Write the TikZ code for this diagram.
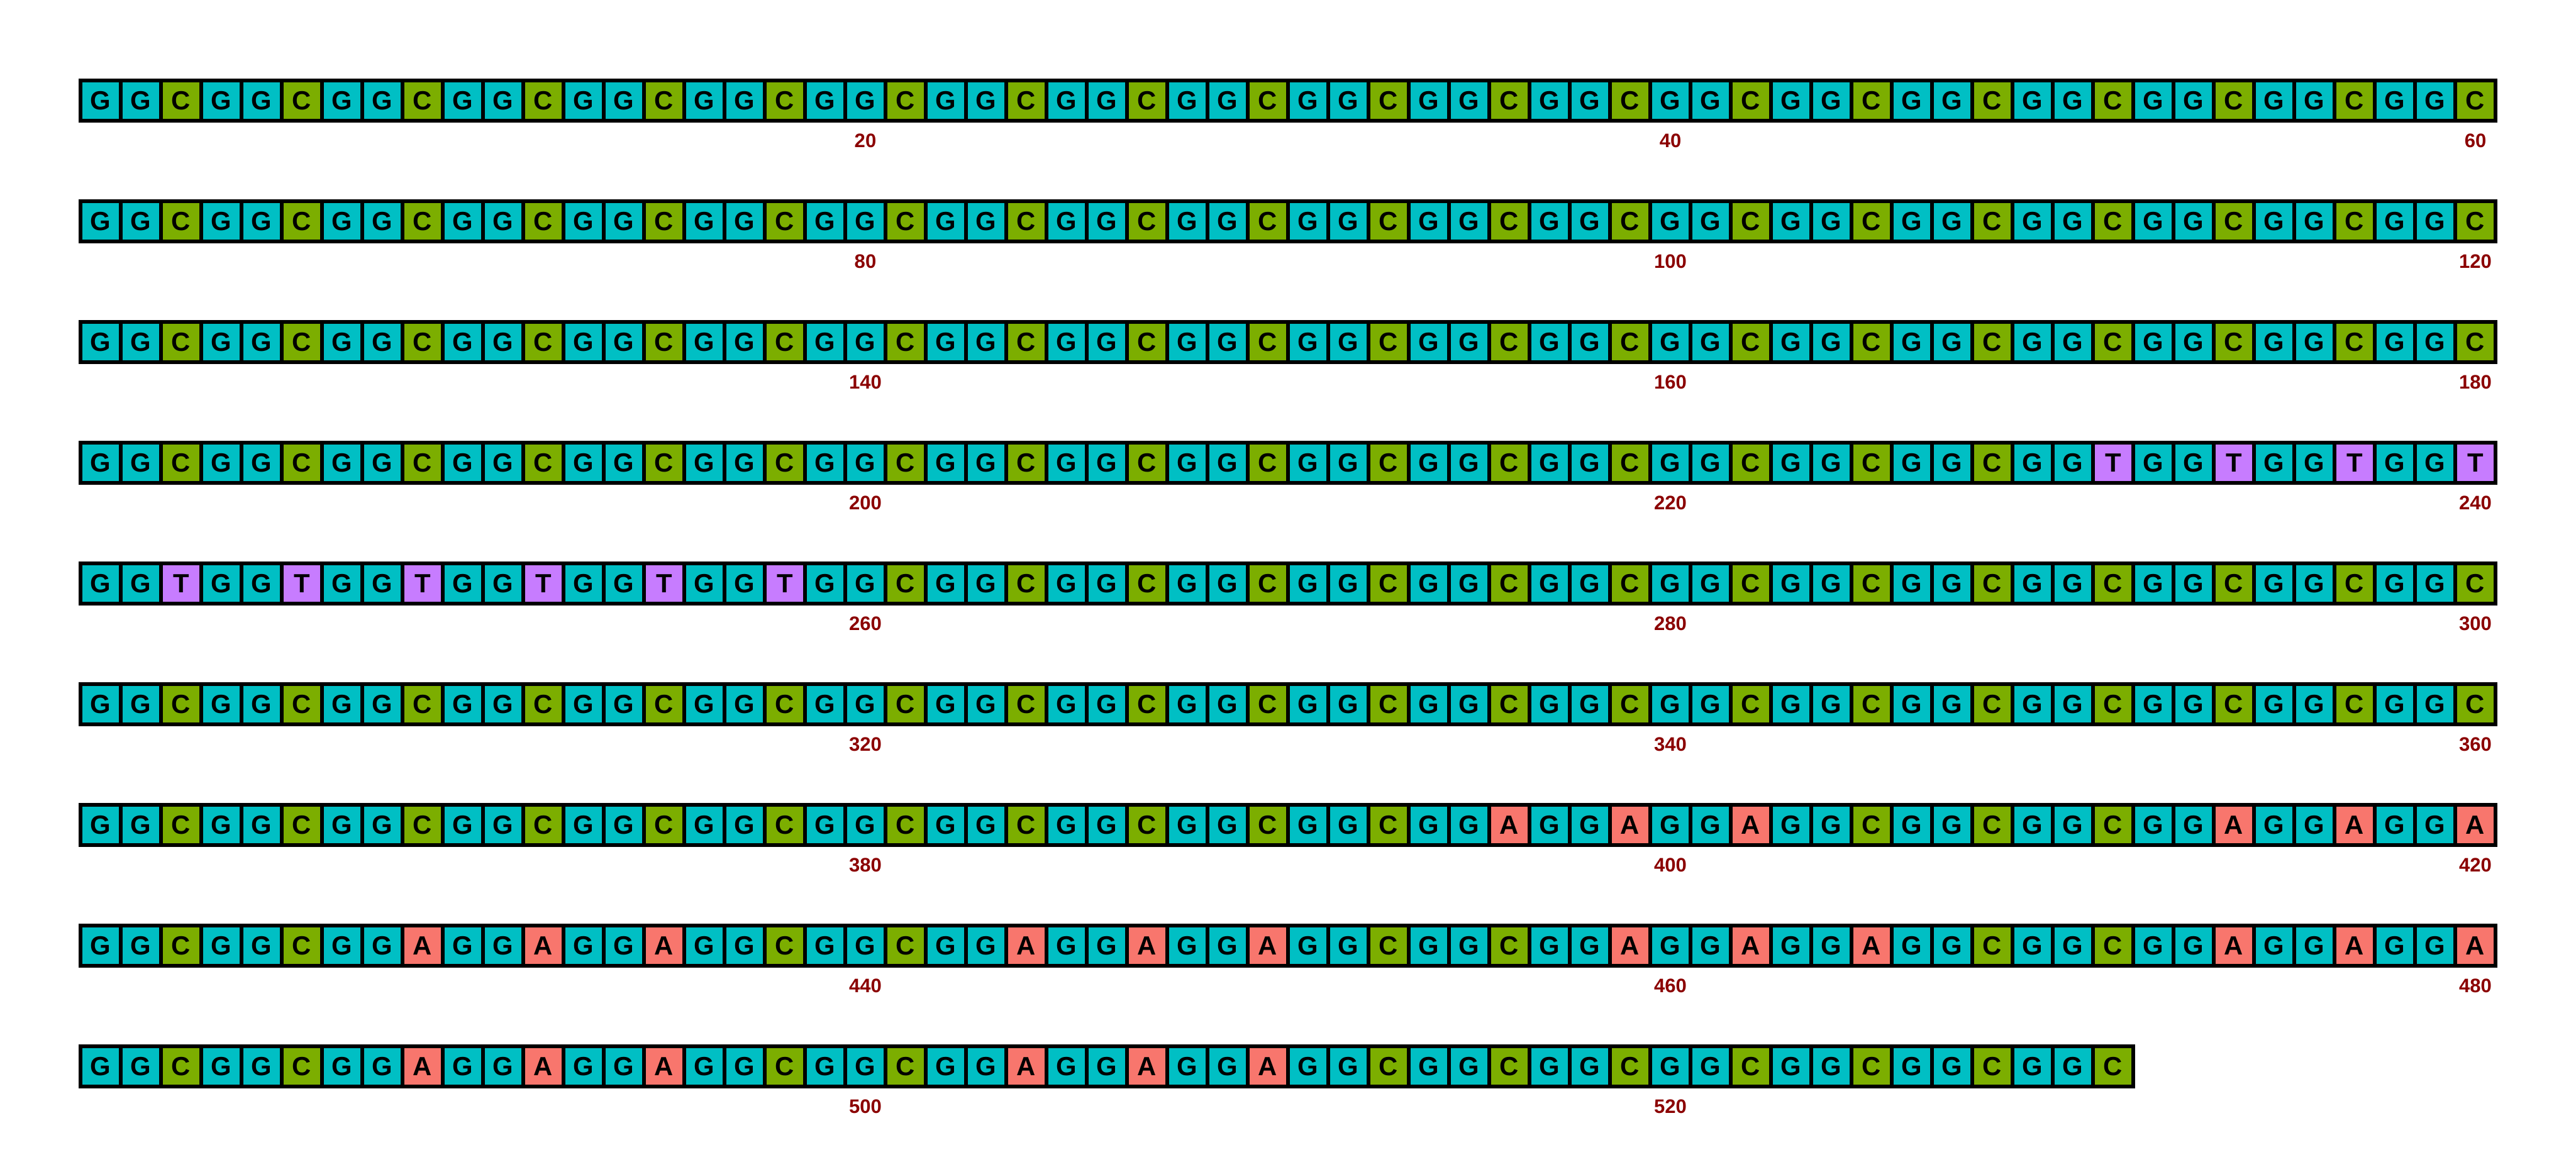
\documentclass[tikz,border=0pt]{standalone}
\usepackage{fontspec}
\setmainfont{Liberation Sans}

\definecolor{baseA}{HTML}{F8766D}
\definecolor{baseC}{HTML}{7CAE00}
\definecolor{baseG}{HTML}{00BFC4}
\definecolor{baseT}{HTML}{C77CFF}
\definecolor{tickred}{HTML}{8B0000}

\begin{document}
\begin{tikzpicture}[
        x=0.5cm, y=0.5cm,
        base/.style={draw, line width=1.3pt, minimum size=0.5cm, inner sep=0pt, outer sep=0pt, font=\fontsize{9.3}{10}\selectfont\bfseries},
        pos_label/.style={text=tickred, inner sep=0pt, font=\fontsize{6.9}{8}\selectfont\bfseries}
    ]
        \useasboundingbox (0,0) rectangle (64,29);

        % third base of every GGx codon, 20 codons per row
        \foreach \r/\codons in {
                0/{C,C,C,C,C,C,C,C,C,C,C,C,C,C,C,C,C,C,C,C},
                1/{C,C,C,C,C,C,C,C,C,C,C,C,C,C,C,C,C,C,C,C},
                2/{C,C,C,C,C,C,C,C,C,C,C,C,C,C,C,C,C,C,C,C},
                3/{C,C,C,C,C,C,C,C,C,C,C,C,C,C,C,C,T,T,T,T},
                4/{T,T,T,T,T,T,C,C,C,C,C,C,C,C,C,C,C,C,C,C},
                5/{C,C,C,C,C,C,C,C,C,C,C,C,C,C,C,C,C,C,C,C},
                6/{C,C,C,C,C,C,C,C,C,C,C,A,A,A,C,C,C,A,A,A},
                7/{C,C,A,A,A,C,C,A,A,A,C,C,A,A,A,C,C,A,A,A},
                8/{C,C,A,A,A,C,C,A,A,A,C,C,C,C,C,C,C}} {
            \foreach \x [count=\k] in \codons {
                \pgfmathtruncatemacro{\na}{60*\r+3*\k-2}
                \pgfmathtruncatemacro{\nb}{60*\r+3*\k-1}
                \pgfmathtruncatemacro{\nc}{60*\r+3*\k}
                \node[base, fill=baseG] (b\na) at ({3*\k-0.5}, {26.5-3*\r}) {G};
                \node[base, fill=baseG] (b\nb) at ({3*\k+0.5}, {26.5-3*\r}) {G};
                \node[base, fill=base\x] (b\nc) at ({3*\k+1.5}, {26.5-3*\r}) {\x};
            }
        }

        \foreach \m in {20,40,...,520}
            \node[pos_label] (lab\m) at ([yshift=-0.5cm] b\m.center) {\m};

    \end{tikzpicture}
\end{document}
